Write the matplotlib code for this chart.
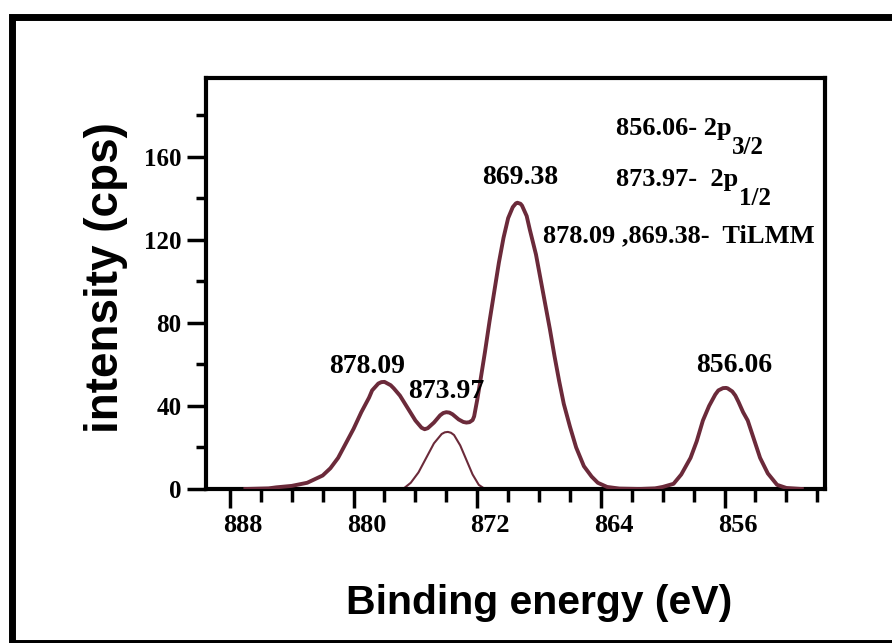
import numpy as np
import matplotlib.pyplot as plt
from matplotlib.patches import Rectangle
from matplotlib.ticker import MultipleLocator
from matplotlib.transforms import ScaledTranslation

plt.rcParams['font.family'] = ['Liberation Serif', 'DejaVu Serif']

# fitted envelope (binding energy eV, intensity cps)
env_ev = [887.0, 885.5, 885.0, 884.0, 883.0, 882.0, 881.5, 881.0, 880.5, 880.0,
          879.5, 879.0, 878.8, 878.4, 878.2, 878.0, 877.6, 877.4, 877.0, 876.5,
          876.0, 875.6, 875.4, 875.2, 874.8, 874.4, 874.2, 874.0, 873.8, 873.6,
          873.2, 872.9, 872.7, 872.5, 872.3, 872.2, 872.0, 871.8, 871.5, 871.2,
          870.9, 870.6, 870.3, 870.0, 869.7, 869.5, 869.4, 869.2, 869.1, 868.8,
          868.6, 868.2, 867.9, 867.6, 867.3, 867.0, 866.7, 866.4, 866.0, 865.6,
          865.1, 864.6, 864.2, 863.6, 862.8, 861.5, 860.5, 860.0, 859.3, 858.8,
          858.2, 857.8, 857.4, 857.0, 856.6, 856.4, 856.1, 855.9, 855.8, 855.5,
          855.3, 855.1, 854.8, 854.5, 854.1, 853.7, 853.2, 852.6, 852.0, 851.0]
env_cps = [0.0, 0.3, 0.8, 1.5, 3.0, 6.5, 10.0, 15.0, 22.0, 29.0,
           37.0, 44.0, 47.5, 50.8, 51.5, 51.6, 50.0, 48.5, 45.0, 39.0,
           33.0, 29.5, 28.8, 29.3, 32.0, 35.5, 36.6, 37.0, 36.8, 36.0,
           33.5, 32.3, 32.0, 32.2, 33.2, 35.0, 43.0, 52.0, 66.0, 81.0,
           95.0, 109.0, 121.0, 130.5, 135.8, 137.6, 137.9, 137.4, 136.5, 131.5,
           125.0, 113.0, 101.0, 89.0, 77.0, 64.0, 52.0, 41.0, 30.0, 20.0,
           11.0, 6.0, 3.0, 1.0, 0.2, 0.0, 0.3, 1.0, 2.5, 7.0,
           15.0, 23.0, 33.0, 40.0, 45.5, 47.5, 48.6, 48.7, 48.5, 47.0,
           45.0, 42.0, 37.0, 33.0, 24.0, 15.0, 7.5, 2.0, 0.5, 0.0]

# 2p1/2 component
comp_ev = [876.8, 876.3, 875.8, 875.3, 874.8, 874.3, 874.1, 873.9, 873.7, 873.5,
           873.1, 872.7, 872.3, 871.9, 871.5]
comp_cps = [0.0, 3.0, 8.0, 15.0, 22.0, 26.5, 27.3, 27.5, 27.1, 26.0,
            21.0, 14.0, 7.0, 2.0, 0.0]

peak_labels = ['878.09', '873.97', '869.38', '856.06']
peak_label_ev = [879.1, 874.0, 869.2, 855.4]
peak_label_cps = [58.8, 47.2, 150.0, 59.3]

xticks = [888, 880, 872, 864, 856]
yticks = [0, 40, 80, 120, 160]

col = '#6b2a3a'

fig = plt.figure(figsize=(8.92, 6.43), dpi=100)
fig.patches.append(Rectangle((0.0135, 0.0), 1.0, 0.973, transform=fig.transFigure,
                             fill=False, lw=5, ec='black'))
ax = fig.add_axes([0.2309, 0.2395, 0.694, 0.6392])

ax.plot(env_ev, env_cps, color=col, lw=2.8, zorder=3, solid_joinstyle='round')
ax.plot(comp_ev, comp_cps, color=col, lw=1.5, zorder=2, solid_joinstyle='round')

ax.set_xlim(889.55, 849.5)
ax.set_ylim(0, 198)
ax.set_xticks(xticks)
ax.set_yticks(yticks)
ax.xaxis.set_minor_locator(MultipleLocator(2))
ax.yaxis.set_minor_locator(MultipleLocator(20))
ax.tick_params(axis='x', which='major', length=14, width=2.5, pad=4, labelsize=19)
ax.tick_params(axis='x', which='minor', length=9, width=2.5)
ax.tick_params(axis='y', which='major', length=13.5, width=2.5, pad=4, labelsize=18)
ax.tick_params(axis='y', which='minor', length=7, width=2.5)
for s in ax.spines.values():
    s.set_linewidth(3)

shift = ScaledTranslation(0.13, 0, fig.dpi_scale_trans)
for lab in ax.get_xticklabels():
    lab.set_fontweight('bold')
    lab.set_transform(lab.get_transform() + shift)
for lab in ax.get_yticklabels():
    lab.set_fontweight('bold')

for t, x, y in zip(peak_labels, peak_label_ev, peak_label_cps):
    ax.text(x, y, t, ha='center', va='center', fontsize=20, fontweight='bold')

t1 = ax.text(0.663, 0.878, '856.06- 2p', transform=ax.transAxes, ha='left', va='center',
             fontsize=19, fontweight='bold')
ax.annotate('3/2', xy=(1, 0), xycoords=t1, xytext=(0, -6), textcoords='offset points',
            ha='left', va='center', fontsize=18, fontweight='bold')
t2 = ax.text(0.663, 0.754, '873.97-  2p', transform=ax.transAxes, ha='left', va='center',
             fontsize=19, fontweight='bold')
ax.annotate('1/2', xy=(1, 0), xycoords=t2, xytext=(0, -6), textcoords='offset points',
            ha='left', va='center', fontsize=18, fontweight='bold')
ax.text(0.544, 0.616, '878.09 ,869.38-  TiLMM', transform=ax.transAxes, ha='left',
        va='center', fontsize=19, fontweight='bold')

fig.text(0.119, 0.569, 'intensity (cps)', rotation=90, ha='center', va='center',
         family='Liberation Sans', fontsize=33, fontweight='bold')
fig.text(0.604, 0.062, 'Binding energy (eV)', ha='center', va='center',
         family='Liberation Sans', fontsize=29.5, fontweight='bold')

fig.savefig('out.png', dpi=100)
